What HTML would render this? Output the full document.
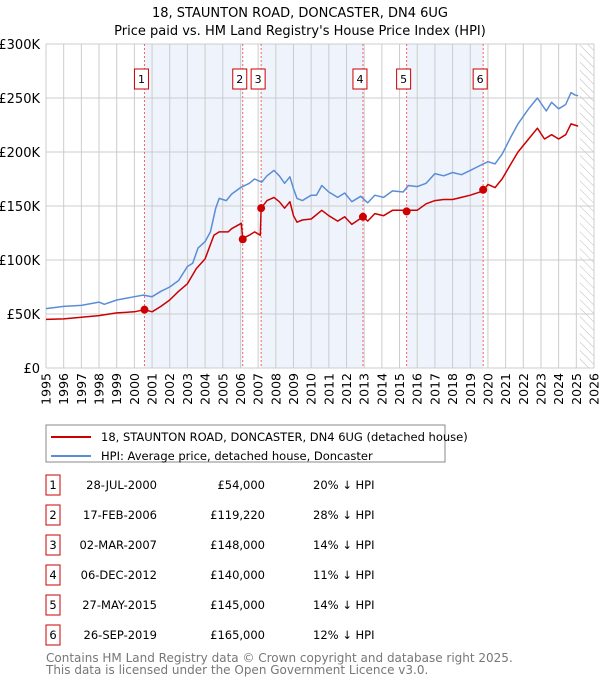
<!DOCTYPE html>
<html><head><meta charset="utf-8"><style>
body{margin:0;background:#fff;font-family:"Liberation Sans","DejaVu Sans",sans-serif;}
svg text{font-family:"DejaVu Sans","Liberation Sans",sans-serif;}
</style></head><body>
<svg id="c" width="600" height="680" xmlns="http://www.w3.org/2000/svg">
<text x="300" y="17" text-anchor="middle" font-size="13">18, STAUNTON ROAD, DONCASTER, DN4 6UG</text>
<text x="300" y="35" text-anchor="middle" font-size="13">Price paid vs. HM Land Registry's House Price Index (HPI)</text>
<g id="plot"></g>
<g>
<rect x="46" y="425" width="399" height="37" fill="#fff" stroke="#888"/>
<line x1="51" y1="437" x2="91" y2="437" stroke="#cc0000" stroke-width="2"/>
<text x="101" y="441" font-size="11.5">18, STAUNTON ROAD, DONCASTER, DN4 6UG (detached house)</text>
<line x1="51" y1="456" x2="91" y2="456" stroke="#5b8dd6" stroke-width="2"/>
<text x="101" y="460" font-size="11.5">HPI: Average price, detached house, Doncaster</text>
</g>
<g id="table"></g>
<text x="46" y="662" font-size="12" fill="#777">Contains HM Land Registry data © Crown copyright and database right 2025.</text>
<text x="46" y="674" font-size="12" fill="#777">This data is licensed under the Open Government Licence v3.0.</text>
</svg>
<script>
const hpiX=[1995,1996,1997,1998,1998.3,1999,2000,2000.5,2001,2001.5,2002,2002.5,2003,2003.3,2003.6,2004,2004.3,2004.6,2004.8,2005.2,2005.5,2006,2006.5,2006.8,2007.2,2007.5,2007.9,2008.2,2008.5,2008.8,2009,2009.2,2009.5,2010,2010.3,2010.6,2011,2011.5,2011.9,2012.3,2012.8,2013.2,2013.6,2014.1,2014.6,2015.2,2015.5,2016,2016.5,2017,2017.5,2018,2018.5,2019,2019.5,2020,2020.4,2020.8,2021.3,2021.7,2022.3,2022.8,2023.3,2023.6,2024,2024.4,2024.7,2024.9,2025.1];
const hpiV=[55,57,58,61,59,63,66,67.5,66,71,75,81,94,97,111,117,126,148,157,155,161,167,171,175,172,178,183,178,171,177,166,157,155,160,160,169,163,158,162,154,159,153,160,158,164,163,169,168,171,180,178,181,179,183,187,191,189,198,214,226,240,250,238,246,240,244,255,253,252];
const propX=[1995,1996,1997,1998,1999,2000,2000.57,2001,2001.5,2002,2002.5,2003,2003.5,2004,2004.5,2004.8,2005.3,2005.5,2006.05,2006.13,2006.5,2006.8,2007.12,2007.17,2007.5,2007.9,2008.2,2008.5,2008.8,2009,2009.2,2009.5,2010,2010.6,2011,2011.5,2011.9,2012.3,2012.93,2013.2,2013.6,2014.1,2014.6,2015.4,2015.7,2016,2016.5,2017,2017.5,2018,2018.5,2019,2019.73,2020,2020.4,2020.8,2021.3,2021.7,2022.3,2022.8,2023.2,2023.6,2024,2024.4,2024.7,2025.1];
const propV=[45,45.5,47,48.5,51,52,54,52,57,63,71,78,92,101,123,126,126,129,134,120,123,126,123,148,155,158,154,148,154,141,135,137,138,146,141,136,140,133,140,136,143,141,146,146,146,146,152,155,156,156,158,160,164,170,167,175,189,200,212,222,212,216,212,216,226,224];
const saleNums=["1","2","3","4","5","6"];
const saleDates=[2000.57,2006.13,2007.17,2012.93,2015.4,2019.73];
const salePrices=[54,119.22,148,140,145,165];
const saleDateLabels=["28-JUL-2000","17-FEB-2006","02-MAR-2007","06-DEC-2012","27-MAY-2015","26-SEP-2019"];
const salePriceLabels=["£54,000","£119,220","£148,000","£140,000","£145,000","£165,000"];
const saleHpiLabels=["20% ↓ HPI","28% ↓ HPI","14% ↓ HPI","11% ↓ HPI","14% ↓ HPI","12% ↓ HPI"];
const yTicks=[0,50,100,150,200,250,300];
const yTickLabels=["£0","£50K","£100K","£150K","£200K","£250K","£300K"];

const NS="http://www.w3.org/2000/svg";
const L=46,R=594,T=44,B=368,X0=1995,X1=2026;
const sx=v=>L+(v-X0)/(X1-X0)*(R-L);
const sy=v=>B-v/300*(B-T);
const g=document.getElementById('plot');
function mk(tag,attrs,parent){const e=document.createElementNS(NS,tag);for(const k in attrs)e.setAttribute(k,attrs[k]);(parent||g).appendChild(e);return e;}
// shaded bands
for(let i=0;i<saleDates.length;i+=2){
  const r=mk('rect',{x:sx(saleDates[i]),y:T,width:sx(saleDates[i+1])-sx(saleDates[i]),height:B-T,fill:'#eef3fc'});
  
  
}
// hatch for future
const defs=mk('defs',{});
const pat=mk('pattern',{id:'h',width:6,height:6,patternUnits:'userSpaceOnUse',patternTransform:'rotate(-45)'},defs);
mk('line',{x1:0,y1:0,x2:0,y2:6,stroke:'#bbb','stroke-width':1},pat);
const hz=mk('rect',{x:sx(2025.2),y:T,width:R-sx(2025.2),height:B-T,fill:'url(#h)'});


// grid
for(let y=X0;y<=X1;y++){
  const l=mk('line',{x1:sx(y),y1:T,x2:sx(y),y2:B,stroke:'#ccc','stroke-width':1});
  
  
  const t=mk('text',{x:0,y:0,'font-size':12.5,'text-anchor':'end',transform:`translate(${sx(y)+4.5},${B+5}) rotate(-90)`});
  t.textContent=y;
  
  
}
yTicks.forEach((v,i)=>{
  const l=mk('line',{x1:L,y1:sy(v),x2:R,y2:sy(v),stroke:'#ccc','stroke-width':1});
  
  
  const t=mk('text',{x:40,y:sy(v)+5,'font-size':13,'text-anchor':'end'});
  t.textContent=yTickLabels[i];
  
  
});
// sale lines & boxes
saleDates.forEach((d,i)=>{
  const l=mk('line',{x1:sx(d),y1:T,x2:sx(d),y2:B,stroke:'#e66','stroke-width':1,'stroke-dasharray':'2,2'});
  
  
  const b=mk('rect',{x:sx(d)-10,y:69,width:14,height:20,fill:'#fff',stroke:'#cc0000'});
  
  
  const t=mk('text',{x:sx(d)-3,y:83,'font-size':11,'text-anchor':'middle'});
  t.textContent=saleNums[i];
  
  
});
function path(xs,vs,color,name){
  const p=mk('path',{d:xs.map((x,i)=>(i?'L':'M')+sx(x).toFixed(1)+','+sy(vs[i]).toFixed(1)).join(''),fill:'none',stroke:color,'stroke-width':1.5,'stroke-linejoin':'round'});
  
  
}
path(hpiX,hpiV,'#5b8dd6','hpi-line');
path(propX,propV,'#cc0000','property-line');
saleDates.forEach((d,i)=>{
  const c=mk('circle',{cx:sx(d),cy:sy(salePrices[i]),r:4,fill:'#cc0000'});
  
  
});
// table
const tb=document.getElementById('table');
saleNums.forEach((n,i)=>{
  const y=484+i*30;
  const b=mk('rect',{x:46,y:y-9,width:14,height:20,fill:'#fff',stroke:'#cc0000'},tb);
  
  
  const cells=[[53,'middle',n],[157,'end',saleDateLabels[i]],[265,'end',salePriceLabels[i]],[313,'start',saleHpiLabels[i]]];
  cells.forEach(c=>{
    const t=mk('text',{x:c[0],y:y+5,'font-size':11.5,'text-anchor':c[1]},tb);
    t.textContent=c[2];
    
    
  });
});
</script>
</body></html>
